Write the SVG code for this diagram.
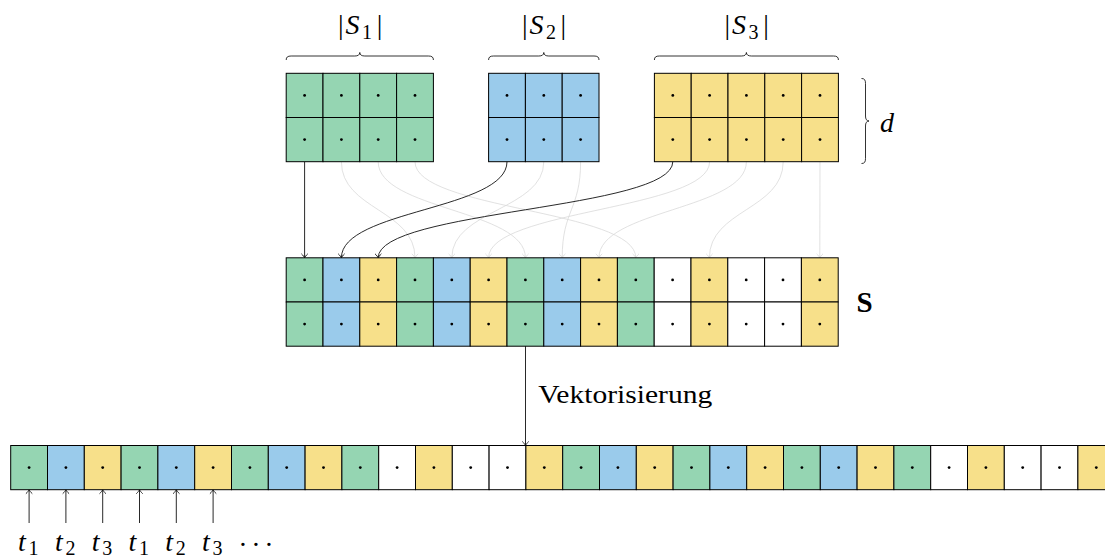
<svg xmlns="http://www.w3.org/2000/svg" xmlns:xlink="http://www.w3.org/1999/xlink" width="1105" height="559" viewBox="0 0 1105 559">
<style>
text{font-family:'Liberation Serif','Times New Roman',serif;fill:#000}
.it{font-style:italic}
.br{fill:none;stroke:#000;stroke-width:0.8}
.cb{fill:none;stroke:#111;stroke-width:0.9}
.cg{fill:none;stroke:#d9d9d9;stroke-width:0.8}
</style>
<defs>
<marker id="ab" viewBox="-5 -4 6 8" refX="0" refY="0" markerUnits="userSpaceOnUse" markerWidth="6" markerHeight="8" orient="auto">
<path d="M-4,-3.2 C-2.5,-1.5 -0.8,-0.4 0,0 C-0.8,0.4 -2.5,1.5 -4,3.2" fill="none" stroke="#111" stroke-width="0.9"/>
</marker>
<marker id="ag" viewBox="-5 -4 6 8" refX="0" refY="0" markerUnits="userSpaceOnUse" markerWidth="6" markerHeight="8" orient="auto">
<path d="M-4,-3.2 C-2.5,-1.5 -0.8,-0.4 0,0 C-0.8,0.4 -2.5,1.5 -4,3.2" fill="none" stroke="#d9d9d9" stroke-width="0.8"/>
</marker>
<g id="cG"><rect width="36.8" height="44.2" fill="#95D5B2" stroke="#000" stroke-width="1"/><circle cx="18.4" cy="22.1" r="1.4" fill="#000"/></g>
<g id="cB"><rect width="36.8" height="44.2" fill="#9ACBEB" stroke="#000" stroke-width="1"/><circle cx="18.4" cy="22.1" r="1.4" fill="#000"/></g>
<g id="cY"><rect width="36.8" height="44.2" fill="#F7E08A" stroke="#000" stroke-width="1"/><circle cx="18.4" cy="22.1" r="1.4" fill="#000"/></g>
<g id="cW"><rect width="36.8" height="44.2" fill="#FFFFFF" stroke="#000" stroke-width="1"/><circle cx="18.4" cy="22.1" r="1.4" fill="#000"/></g>
</defs>
<rect width="1105" height="559" fill="#fff"/>

<g id="connectors">
<path class="cg" marker-end="url(#ag)" d="M341.4,161.7 C341.4,209.7 415,209.8 415,257.8"/>
<path class="cg" marker-end="url(#ag)" d="M378.2,161.7 C378.2,209.7 525.4,209.8 525.4,257.8"/>
<path class="cg" marker-end="url(#ag)" d="M415,161.7 C415,209.7 635.8,209.8 635.8,257.8"/>
<path class="cg" marker-end="url(#ag)" d="M543.8,161.7 C543.8,209.7 451.8,209.8 451.8,257.8"/>
<path class="cg" marker-end="url(#ag)" d="M580.6,161.7 C580.6,209.7 562.2,209.8 562.2,257.8"/>
<path class="cg" marker-end="url(#ag)" d="M709.6,161.7 C709.6,209.7 488.6,209.8 488.6,257.8"/>
<path class="cg" marker-end="url(#ag)" d="M746.4,161.7 C746.4,209.7 599,209.8 599,257.8"/>
<path class="cg" marker-end="url(#ag)" d="M783.2,161.7 C783.2,209.7 709.4,209.8 709.4,257.8"/>
<path class="cg" marker-end="url(#ag)" d="M820,161.7 L819.8,257.8"/>
<path class="cb" marker-end="url(#ab)" d="M304.6,161.7 L304.6,257.8"/>
<path class="cb" marker-end="url(#ab)" d="M507,161.7 C507,209.7 341.4,209.8 341.4,257.8"/>
<path class="cb" marker-end="url(#ab)" d="M672.8,161.7 C672.8,209.7 378.2,209.8 378.2,257.8"/>
<path class="cb" marker-end="url(#ab)" d="M525.5,346 L525.5,445.5"/>
<path class="cb" marker-end="url(#ab)" d="M29.1,523 L29.1,489.7"/>
<path class="cb" marker-end="url(#ab)" d="M65.9,523 L65.9,489.7"/>
<path class="cb" marker-end="url(#ab)" d="M102.7,523 L102.7,489.7"/>
<path class="cb" marker-end="url(#ab)" d="M139.5,523 L139.5,489.7"/>
<path class="cb" marker-end="url(#ab)" d="M176.3,523 L176.3,489.7"/>
<path class="cb" marker-end="url(#ab)" d="M213.1,523 L213.1,489.7"/>
</g>

<g id="S1" transform="translate(286.2,73.3)">
<use xlink:href="#cG" x="0" y="0"/><use xlink:href="#cG" x="0" y="44.2"/>
<use xlink:href="#cG" x="36.8" y="0"/><use xlink:href="#cG" x="36.8" y="44.2"/>
<use xlink:href="#cG" x="73.6" y="0"/><use xlink:href="#cG" x="73.6" y="44.2"/>
<use xlink:href="#cG" x="110.4" y="0"/><use xlink:href="#cG" x="110.4" y="44.2"/>
</g>
<g id="S2" transform="translate(488.6,73.3)">
<use xlink:href="#cB" x="0" y="0"/><use xlink:href="#cB" x="0" y="44.2"/>
<use xlink:href="#cB" x="36.8" y="0"/><use xlink:href="#cB" x="36.8" y="44.2"/>
<use xlink:href="#cB" x="73.6" y="0"/><use xlink:href="#cB" x="73.6" y="44.2"/>
</g>
<g id="S3" transform="translate(654.4,73.3)">
<use xlink:href="#cY" x="0" y="0"/><use xlink:href="#cY" x="0" y="44.2"/>
<use xlink:href="#cY" x="36.8" y="0"/><use xlink:href="#cY" x="36.8" y="44.2"/>
<use xlink:href="#cY" x="73.6" y="0"/><use xlink:href="#cY" x="73.6" y="44.2"/>
<use xlink:href="#cY" x="110.4" y="0"/><use xlink:href="#cY" x="110.4" y="44.2"/>
<use xlink:href="#cY" x="147.2" y="0"/><use xlink:href="#cY" x="147.2" y="44.2"/>
</g>

<g id="S" transform="translate(286.2,257.8)">
<use xlink:href="#cG" x="0" y="0"/><use xlink:href="#cG" x="0" y="44.2"/>
<use xlink:href="#cB" x="36.8" y="0"/><use xlink:href="#cB" x="36.8" y="44.2"/>
<use xlink:href="#cY" x="73.6" y="0"/><use xlink:href="#cY" x="73.6" y="44.2"/>
<use xlink:href="#cG" x="110.4" y="0"/><use xlink:href="#cG" x="110.4" y="44.2"/>
<use xlink:href="#cB" x="147.2" y="0"/><use xlink:href="#cB" x="147.2" y="44.2"/>
<use xlink:href="#cY" x="184" y="0"/><use xlink:href="#cY" x="184" y="44.2"/>
<use xlink:href="#cG" x="220.8" y="0"/><use xlink:href="#cG" x="220.8" y="44.2"/>
<use xlink:href="#cB" x="257.6" y="0"/><use xlink:href="#cB" x="257.6" y="44.2"/>
<use xlink:href="#cY" x="294.4" y="0"/><use xlink:href="#cY" x="294.4" y="44.2"/>
<use xlink:href="#cG" x="331.2" y="0"/><use xlink:href="#cG" x="331.2" y="44.2"/>
<use xlink:href="#cW" x="368" y="0"/><use xlink:href="#cW" x="368" y="44.2"/>
<use xlink:href="#cY" x="404.8" y="0"/><use xlink:href="#cY" x="404.8" y="44.2"/>
<use xlink:href="#cW" x="441.6" y="0"/><use xlink:href="#cW" x="441.6" y="44.2"/>
<use xlink:href="#cW" x="478.4" y="0"/><use xlink:href="#cW" x="478.4" y="44.2"/>
<use xlink:href="#cY" x="515.2" y="0"/><use xlink:href="#cY" x="515.2" y="44.2"/>
</g>

<g id="vec" transform="translate(10.7,445.5)">
<use xlink:href="#cG" x="0"/><use xlink:href="#cB" x="36.8"/><use xlink:href="#cY" x="73.6"/>
<use xlink:href="#cG" x="110.4"/><use xlink:href="#cB" x="147.2"/><use xlink:href="#cY" x="184"/>
<use xlink:href="#cG" x="220.8"/><use xlink:href="#cB" x="257.6"/><use xlink:href="#cY" x="294.4"/>
<use xlink:href="#cG" x="331.2"/><use xlink:href="#cW" x="368"/><use xlink:href="#cY" x="404.8"/>
<use xlink:href="#cW" x="441.6"/><use xlink:href="#cW" x="478.4"/><use xlink:href="#cY" x="515.2"/>
<use xlink:href="#cG" x="552"/><use xlink:href="#cB" x="588.8"/><use xlink:href="#cY" x="625.6"/>
<use xlink:href="#cG" x="662.4"/><use xlink:href="#cB" x="699.2"/><use xlink:href="#cY" x="736"/>
<use xlink:href="#cG" x="772.8"/><use xlink:href="#cB" x="809.6"/><use xlink:href="#cY" x="846.4"/>
<use xlink:href="#cG" x="883.2"/><use xlink:href="#cW" x="920"/><use xlink:href="#cY" x="956.8"/>
<use xlink:href="#cW" x="993.6"/><use xlink:href="#cW" x="1030.4"/><use xlink:href="#cY" x="1067.2"/>
</g>

<g id="braces">
<path class="br" d="M286.2,60 C286.2,57 287.7,56 291.2,56 L354.8,56 C357.8,56 359.8,55 359.8,52.5 C359.8,55 361.8,56 364.8,56 L428.4,56 C431.9,56 433.4,57 433.4,60"/>
<path class="br" d="M488.6,60 C488.6,57 490.1,56 493.6,56 L538.8,56 C541.8,56 543.8,55 543.8,52.5 C543.8,55 545.8,56 548.8,56 L594,56 C597.5,56 599,57 599,60"/>
<path class="br" d="M654.4,60 C654.4,57 655.9,56 659.4,56 L741.4,56 C744.4,56 746.4,55 746.4,52.5 C746.4,55 748.4,56 751.4,56 L833.4,56 C836.9,56 838.4,57 838.4,60"/>
<path class="br" d="M861.5,78.5 C864.5,78.5 865.5,80 865.5,83.5 L865.5,116 C865.5,119 866.5,121 869,121 C866.5,121 865.5,123 865.5,126 L865.5,158.5 C865.5,162 864.5,163.5 861.5,163.5"/>
</g>

<g id="labels">
<text x="340.7" y="34" font-size="28" text-anchor="middle">|</text>
<text x="345.5" y="34" font-size="28" class="it">S</text>
<text x="362" y="38.5" font-size="20">1</text>
<text x="379.5" y="34" font-size="28" text-anchor="middle">|</text>

<text x="524.8" y="34" font-size="28" text-anchor="middle">|</text>
<text x="529.5" y="34" font-size="28" class="it">S</text>
<text x="546" y="38.5" font-size="20">2</text>
<text x="563.3" y="34" font-size="28" text-anchor="middle">|</text>

<text x="727.4" y="34" font-size="28" text-anchor="middle">|</text>
<text x="732.1" y="34" font-size="28" class="it">S</text>
<text x="748.5" y="38.5" font-size="20">3</text>
<text x="766" y="34" font-size="28" text-anchor="middle">|</text>

<text x="880" y="131.5" font-size="28" class="it">d</text>
<text x="864.5" y="312" font-size="29" font-weight="bold" text-anchor="middle">S</text>
<text x="538.3" y="403.3" font-size="26" textLength="174" lengthAdjust="spacingAndGlyphs">Vektorisierung</text>

<text x="18.1" y="550.7" font-size="28" class="it">t</text><text x="28.6" y="555" font-size="20">1</text>
<text x="54.9" y="550.7" font-size="28" class="it">t</text><text x="65.4" y="555" font-size="20">2</text>
<text x="91.7" y="550.7" font-size="28" class="it">t</text><text x="102.2" y="555" font-size="20">3</text>
<text x="128.5" y="550.7" font-size="28" class="it">t</text><text x="139" y="555" font-size="20">1</text>
<text x="165.3" y="550.7" font-size="28" class="it">t</text><text x="175.8" y="555" font-size="20">2</text>
<text x="202.1" y="550.7" font-size="28" class="it">t</text><text x="212.6" y="555" font-size="20">3</text>
<text x="243 256 269" y="554" font-size="28" text-anchor="middle">···</text>
</g>
</svg>
